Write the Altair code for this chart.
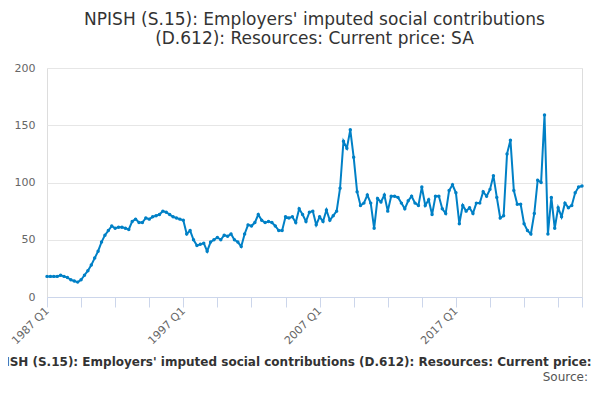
import altair as alt
import pandas as pd

values = [
    18, 18, 18, 18, 19, 18, 17, 15, 14, 13, 15, 19, 23, 28, 34, 40,
    48, 54, 58, 62, 60, 61, 61, 60, 59, 66, 68, 65, 65, 69, 68, 70,
    71, 72, 75, 74, 72, 70, 69, 68, 67, 55, 58, 50, 45, 46, 47, 40,
    48, 50, 52, 50, 54, 53, 55, 50, 48, 44, 55, 63, 62, 65, 72, 67,
    65, 66, 65, 62, 58, 58, 70, 69, 70, 65, 77, 72, 66, 74, 75, 63,
    70, 66, 76, 67, 71, 75, 95, 136, 130, 146, 122, 92, 80, 82, 89, 82,
    60, 86, 83, 89, 75, 88, 88, 87, 82, 77, 84, 88, 82, 80, 96, 80,
    85, 72, 88, 88, 77, 73, 93, 98, 91, 64, 80, 75, 78, 73, 82, 82,
    92, 88, 94, 106, 87, 69, 71, 125, 137, 93, 81, 81, 64, 58, 55, 73,
    102, 100, 159, 55, 87, 60, 78, 70, 82, 78, 80, 91, 96, 97,
]
quarters = [f"{1987 + i // 4} Q{i % 4 + 1}" for i in range(len(values))]
tick_labels = {0: "1987 Q1", 40: "1997 Q1", 80: "2007 Q1", 120: "2017 Q1", 155: "2025 Q4"}

df = pd.DataFrame({"idx": list(range(len(values))), "value": values, "quarter": quarters})
n = len(values) - 1

label_expr = " : ".join(
    [f"datum.value == {k} ? '{v}'" for k, v in tick_labels.items()] + ["''"]
)

line = (
    alt.Chart(df)
    .mark_line(color="#0080c6", strokeWidth=2, point=alt.OverlayMarkDef(color="#0080c6", size=12))
    .encode(
        x=alt.X(
            "idx:Q",
            title=None,
            scale=alt.Scale(domain=[0, n], nice=False, zero=False),
            axis=alt.Axis(
                values=list(range(0, n, 10)) + [40, 80, 120, n],
                labelExpr=label_expr,
                labelAngle=-45,
                labelAlign="right",
                labelBaseline="middle",
                labelColor="#666",
                labelFontSize=11,
                grid=False,
                domainColor="#ccd6eb",
                tickColor="#ccd6eb",
                tickSize=10,
                labelOverlap=False,
            ),
        ),
        y=alt.Y(
            "value:Q",
            title=None,
            scale=alt.Scale(domain=[0, 200]),
            axis=alt.Axis(
                values=[0, 50, 100, 150, 200],
                labelColor="#666",
                labelFontSize=11,
                gridColor="#e6e6e6",
                domain=False,
                ticks=False,
                labelPadding=12,
            ),
        ),
        tooltip=["quarter:N", "value:Q"],
    )
)

footer = alt.Chart(pd.DataFrame({"t": ["NPISH (S.15): Employers' imputed social contributions (D.612): Resources: Current price: SA"]})).mark_text(
    fontWeight="bold", fontSize=12, color="#333", align="center"
).encode(text="t:N", x=alt.value(253), y=alt.value(294))

source = alt.Chart(pd.DataFrame({"t": ["Source:"]})).mark_text(
    fontSize=12, color="#555", align="right"
).encode(text="t:N", x=alt.value(541), y=alt.value(309))

chart = (
    alt.layer(line, footer, source)
    .properties(
        width=535,
        height=229,
        autosize=alt.AutoSizeParams(type="none"),
        padding={"left": 39, "top": 60, "right": 10, "bottom": 95},
        title=alt.TitleParams(
            ["NPISH (S.15): Employers' imputed social contributions", "(D.612): Resources: Current price: SA"],
            fontSize=17,
            fontWeight="normal",
            color="#333",
            anchor="middle",
            offset=14,
            font="DejaVu Sans",
        ),
    )
    .configure_view(stroke=None)
    .configure(font="DejaVu Sans")
)

chart.save("out.html", embed_options={"renderer": "svg", "actions": False})
